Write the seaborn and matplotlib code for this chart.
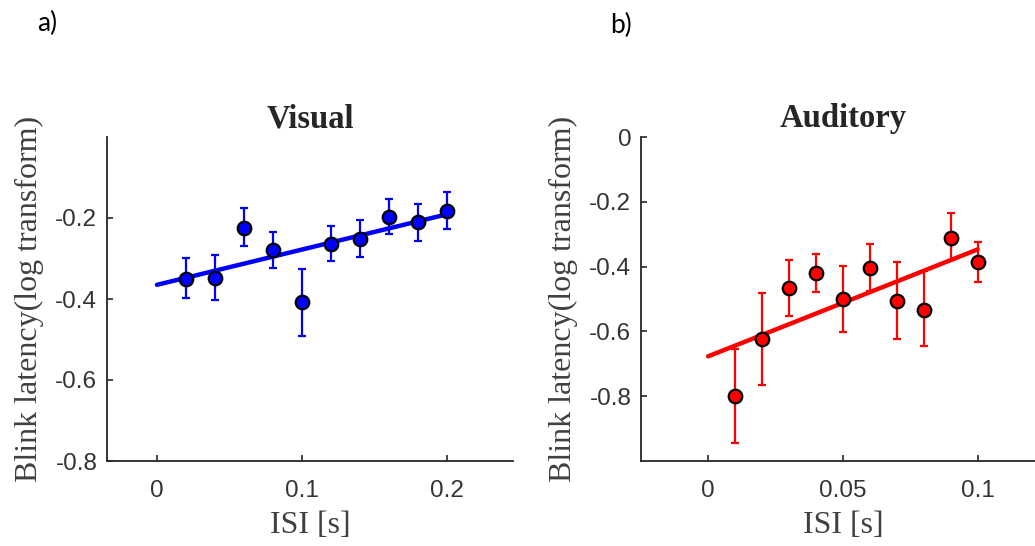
import numpy as np
import pandas as pd
import matplotlib
matplotlib.use("Agg")
import matplotlib.pyplot as plt
import seaborn as sns

# ---- data ----
visual_isi = [0.02, 0.04, 0.06, 0.08, 0.10, 0.12, 0.14, 0.16, 0.18, 0.20]
visual_mean = [-0.351, -0.348, -0.224, -0.280, -0.408, -0.264, -0.251, -0.197, -0.211, -0.183]
visual_low = [-0.398, -0.402, -0.270, -0.323, -0.491, -0.307, -0.297, -0.240, -0.257, -0.226]
visual_high = [-0.299, -0.292, -0.175, -0.235, -0.326, -0.219, -0.204, -0.153, -0.165, -0.136]
visual_fit_x = [0.0, 0.2]
visual_fit_y = [-0.365, -0.191]

auditory_isi = [0.01, 0.02, 0.03, 0.04, 0.05, 0.06, 0.07, 0.08, 0.09, 0.10]
auditory_mean = [-0.800, -0.623, -0.466, -0.420, -0.501, -0.403, -0.505, -0.533, -0.311, -0.387]
auditory_low = [-0.943, -0.764, -0.551, -0.478, -0.602, -0.476, -0.623, -0.646, -0.381, -0.449]
auditory_high = [-0.653, -0.481, -0.380, -0.362, -0.398, -0.329, -0.387, -0.413, -0.236, -0.324]
auditory_fit_x = [0.0, 0.1]
auditory_fit_y = [-0.677, -0.347]

visual_xticks = [0, 0.1, 0.2]
visual_xticklabels = ["0", "0.1", "0.2"]
visual_yticks = [-0.8, -0.6, -0.4, -0.2]
visual_yticklabels = ["-0.8", "-0.6", "-0.4", "-0.2"]
auditory_xticks = [0, 0.05, 0.1]
auditory_xticklabels = ["0", "0.05", "0.1"]
auditory_yticks = [-0.8, -0.6, -0.4, -0.2, 0]
auditory_yticklabels = ["-0.8", "-0.6", "-0.4", "-0.2", "0"]

sns.set_theme(style="ticks")
plt.rcParams["font.family"] = ["Liberation Sans", "DejaVu Sans"]

W, H = 1035, 546
fig = plt.figure(figsize=(W / 100, H / 100), dpi=100)

def px_axes(l, r, t, b):
    return fig.add_axes([l / W, 1 - b / H, (r - l) / W, (b - t) / H])

ax1 = px_axes(107, 513, 137, 461)
ax2 = px_axes(641, 1045, 137, 461)

serif = ["Liberation Serif", "DejaVu Serif"]
axis_color = "#262626"

def panel(ax, x, m, lo, hi, fx, fy, color, title, xlim, ylim, xt, xtl, yt, ytl):
    m = np.array(m); lo = np.array(lo); hi = np.array(hi)
    df = pd.DataFrame({"isi": x, "lat": m})
    fit = pd.DataFrame({"isi": fx, "lat": fy})
    ax.errorbar(x, m, yerr=[m - lo, hi - m], fmt="none", ecolor=color,
                elinewidth=1.6, capsize=3, capthick=1.6, zorder=2)
    sns.lineplot(data=fit, x="isi", y="lat", ax=ax, color=color, lw=3.2, zorder=3)
    sns.scatterplot(data=df, x="isi", y="lat", ax=ax, color=color, s=95,
                    edgecolor="black", linewidth=1.6, zorder=4)
    ax.set_xlim(*xlim)
    ax.set_ylim(*ylim)
    ax.set_xticks(xt)
    ax.set_xticklabels(xtl)
    ax.set_yticks(yt)
    ax.set_yticklabels(ytl)
    ax.tick_params(direction="in", length=4, width=1.2, color=axis_color,
                   labelsize=17.5, labelcolor="#333333")
    ax.tick_params(axis="x", pad=14)
    ax.tick_params(axis="y", pad=7)
    for s in ["top", "right"]:
        ax.spines[s].set_visible(False)
    for s in ["left", "bottom"]:
        ax.spines[s].set_color(axis_color)
        ax.spines[s].set_linewidth(1.3)
    ax.set_title(title, fontfamily=serif, fontweight="bold", fontsize=23.5, pad=7)
    ax.set_xlabel("ISI [s]", fontfamily=serif, fontsize=23, color="#404040", labelpad=6)
    ax.set_ylabel("Blink latency(log transform)", fontfamily=serif, fontsize=23,
                  color="#404040", labelpad=8)

panel(ax1, visual_isi, visual_mean, visual_low, visual_high, visual_fit_x, visual_fit_y,
      "#0000FF", "Visual", (-0.0345, 0.2458), (-0.8, 0.0),
      visual_xticks, visual_xticklabels, visual_yticks, visual_yticklabels)
panel(ax2, auditory_isi, auditory_mean, auditory_low, auditory_high, auditory_fit_x, auditory_fit_y,
      "#FF0000", "Auditory", (-0.0249, 0.1250), (-1.0, 0.0),
      auditory_xticks, auditory_xticklabels, auditory_yticks, auditory_yticklabels)

fig.text(37 / W, 1 - 23 / H, "a)", fontsize=19, fontfamily=["Lato", "DejaVu Sans"],
         va="center", ha="left", color="black")
fig.text(610 / W, 1 - 25 / H, "b)", fontsize=19, fontfamily=["Lato", "DejaVu Sans"],
         va="center", ha="left", color="black")

fig.savefig("out.png", dpi=100, facecolor="white")
